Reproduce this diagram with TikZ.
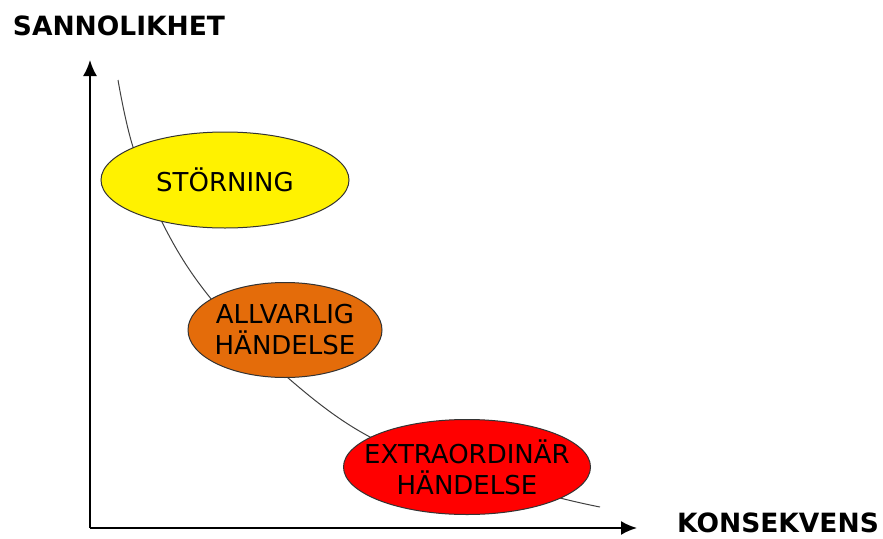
\documentclass[tikz,border=0pt]{standalone}
\usepackage{fontspec}
\setmainfont{DejaVu Sans}
\usetikzlibrary{shapes.geometric,arrows.meta}
\tikzset{
  niva/.style = {ellipse, draw = black!80, line width = 1pt, inner xsep = -16pt, inner ysep = 0pt,
                 align = center, font = \fontsize{26}{31}\selectfont},
  axel/.style = {line width = 2pt, -{Latex[length = 16pt, width = 14pt]}},
  axeltext/.style = {anchor = base, font = \fontsize{26.5}{30}\selectfont\bfseries}
}
\begin{document}
\begin{tikzpicture}[x = 1pt, y = -1pt]
        \useasboundingbox (0,0) rectangle (883,538);

        \coordinate (origo) at (90,528);
        \coordinate (ytopp) at (90,60);
        \coordinate (xslut) at (637,528);
        \draw[axel] (origo) -- (ytopp);
        \draw[axel] (origo) -- (xslut);

        \node[axeltext] (sannolikhet) at (119,35) {SANNOLIKHET};
        \node[axeltext] (konsekvens) at (778,532) {KONSEKVENS};

        % kurvan
        \draw[black!75, line width = 1pt] plot [smooth, tension = 0.6] coordinates {(118,80) (133,147)
                (165,228) (212,300) (287,377) (370,437) (470,474) (560,498) (600,507)};

        \node[niva, fill = yellow, minimum width = 248pt, minimum height = 96pt] (storning) at (225,180) {STÖRNING};
        \node[niva, fill = {rgb,255:red,228;green,108;blue,10}, minimum width = 194pt, minimum height = 95pt] (allvarlig) at (285,330) {ALLVARLIG\\HÄNDELSE};
        \node[niva, fill = red, minimum width = 247pt, minimum height = 95pt] (extra) at (467,467) {EXTRAORDINÄR\\HÄNDELSE};
\end{tikzpicture}
\end{document}
